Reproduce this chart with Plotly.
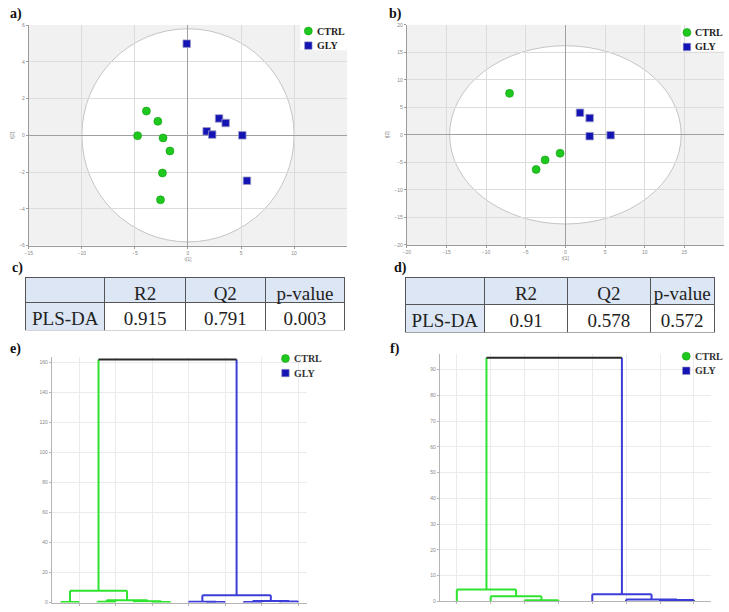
import plotly.graph_objects as go

W, H = 729, 612

# ---------------- data ----------------
# a) PLS-DA score plot (t[1], t[2])
a_ctrl_t1 = [-3.92, -2.84, -4.75, -2.35, -1.70, -2.41, -2.59]
a_ctrl_t2 = [1.32, 0.76, -0.02, -0.14, -0.85, -2.05, -3.51]
a_gly_t1 = [-0.12, 1.76, 2.28, 2.93, 3.55, 5.12, 5.56]
a_gly_t2 = [4.99, 0.22, 0.04, 0.92, 0.67, 0.00, -2.47]
a_ellipse_axes = [10.0, 5.8]

# b) PLS-DA score plot (t[1], t[2])
b_ctrl_t1 = [-7.04, -0.67, -2.56, -3.69]
b_ctrl_t2 = [7.54, -3.35, -4.55, -6.29]
b_gly_t1 = [1.84, 3.06, 3.06, 5.70]
b_gly_t2 = [4.01, 3.05, -0.24, -0.06]
b_ellipse_axes = [14.6, 16.2]

# c), d) model statistics
table_header = ["", "R2", "Q2", "p-value"]
c_values = ["PLS-DA", "0.915", "0.791", "0.003"]
d_values = ["PLS-DA", "0.91", "0.578", "0.572"]

# e), f) hierarchical clustering (left child, right child, height)
e_leaf_groups = ["CTRL"] * 7 + ["GLY"] * 7
e_linkage = [(0, 1, 0.4), (2, 3, 0.6), (5, 6, 0.3), (4, 16, 0.9), (15, 17, 1.6),
             (14, 18, 7.9), (8, 9, 0.3), (7, 20, 0.5), (10, 11, 0.4), (12, 13, 0.7),
             (22, 23, 1.0), (21, 24, 4.8), (19, 25, 162.0)]
f_leaf_groups = ["CTRL"] * 4 + ["GLY"] * 4
f_linkage = [(2, 3, 0.4), (1, 8, 2.0), (0, 9, 4.6), (6, 7, 0.5), (5, 11, 0.7),
             (4, 12, 2.8), (10, 13, 94.6)]

# ---------------- styles ----------------
GREEN = "#1ec81e"
BLUE = "#1414b4"
D_GREEN = "#2ee32e"
D_BLUE = "#3c3cd8"
SERIF = "Liberation Serif"
TABLE_BLUE = "#dce6f4"


def px(x):
    return x / W


def py(y):
    return 1 - y / H


fig = go.Figure()

# score plots
for (xa, ya, ct1, ct2, gt1, gt2) in [
    ("x", "y", a_ctrl_t1, a_ctrl_t2, a_gly_t1, a_gly_t2),
    ("x2", "y2", b_ctrl_t1, b_ctrl_t2, b_gly_t1, b_gly_t2),
]:
    fig.add_trace(go.Scatter(x=ct1, y=ct2, mode="markers", name="CTRL", showlegend=False,
                             xaxis=xa, yaxis=ya,
                             marker=dict(symbol="circle", size=8, color=GREEN,
                                         line=dict(color="#0f9a0f", width=0.6))))
    fig.add_trace(go.Scatter(x=gt1, y=gt2, mode="markers", name="GLY", showlegend=False,
                             xaxis=xa, yaxis=ya,
                             marker=dict(symbol="square", size=7.5, color=BLUE,
                                         line=dict(color="#9a9ac8", width=0.8))))


# dendrograms
def dendro_traces(n, linkage, groups, xa, ya):
    pos = {i: float(i) for i in range(n)}
    hgt = {i: 0.0 for i in range(n)}
    mem = {i: {groups[i]} for i in range(n)}
    lines = {"CTRL": ([], []), "GLY": ([], []), "ALL": ([], [])}

    def key_of(m):
        return list(m)[0] if len(m) == 1 else "ALL"

    for k, (l, r, h) in enumerate(linkage):
        c = n + k
        m = mem[l] | mem[r]
        xs, ys = lines[key_of(mem[l])]
        xs += [pos[l], pos[l], None]
        ys += [hgt[l], h, None]
        xs, ys = lines[key_of(mem[r])]
        xs += [pos[r], pos[r], None]
        ys += [hgt[r], h, None]
        xs, ys = lines[key_of(m)]
        xs += [pos[l], pos[r], None]
        ys += [h, h, None]
        pos[c] = (pos[l] + pos[r]) / 2
        hgt[c] = h
        mem[c] = m
    cols = {"CTRL": D_GREEN, "GLY": D_BLUE, "ALL": "#2a2a2a"}
    for key in ["CTRL", "GLY", "ALL"]:
        xs, ys = lines[key]
        fig.add_trace(go.Scatter(x=xs, y=ys, mode="lines", showlegend=False, name=key,
                                 xaxis=xa, yaxis=ya, cliponaxis=False,
                                 line=dict(color=cols[key], width=2)))


dendro_traces(len(e_leaf_groups), e_linkage, e_leaf_groups, "x3", "y3")
dendro_traces(len(f_leaf_groups), f_linkage, f_leaf_groups, "x4", "y4")

# manual legends (overlay axis in pixel space)
legend_spots = [(306, 28.3, 312.5), (686.7, 29.7, 693.3), (283, 359, 289.7), (686, 356.7, 693.3)]
for i, (lx, ly, tx) in enumerate(legend_spots):
    fig.add_trace(go.Scatter(x=[lx], y=[ly], mode="markers", showlegend=False, name="CTRL",
                             xaxis="x5", yaxis="y5",
                             marker=dict(symbol="circle", size=8, color=GREEN,
                                         line=dict(color="#0f9a0f", width=0.5))))
    fig.add_trace(go.Scatter(x=[lx], y=[ly + 14.7], mode="markers", showlegend=False, name="GLY",
                             xaxis="x5", yaxis="y5",
                             marker=dict(symbol="square", size=7.5, color=BLUE,
                                         line=dict(color="#9a9ac8", width=0.6))))

# tables
for dom_x, dom_y, vals, cw, hh, ch in [
    ([px(21.7), px(343.3)], [py(331), py(277)], c_values, [80, 81, 80.6, 80], 25, 28),
    ([px(403.3), px(714.3)], [py(333.5), py(277.3)], d_values, [80, 83.4, 83.3, 64.3], 27, 28),
]:
    fig.add_trace(go.Table(
        domain=dict(x=dom_x, y=dom_y),
        columnwidth=cw,
        header=dict(values=table_header, fill_color=TABLE_BLUE, line=dict(color="#555", width=1),
                    height=hh, align="center",
                    font=dict(family=SERIF, size=19, color="#222")),
        cells=dict(values=[[v] for v in vals],
                   fill_color=[[TABLE_BLUE], ["white"], ["white"], ["white"]],
                   line=dict(color="#555", width=1), height=ch, align="center",
                   font=dict(family=SERIF, size=19, color="#222")),
    ))

small = dict(size=5, color="#888", family="Arial")
score_axis = dict(showgrid=True, gridcolor="#dcdcdc", gridwidth=1, zeroline=True,
                  zerolinecolor="#a0a0a0", zerolinewidth=1, showline=True, linecolor="#9a9a9a",
                  ticks="outside", ticklen=2, tickcolor="#9a9a9a", tickfont=small,
                  fixedrange=True)
dendro_axis = dict(showgrid=True, gridcolor="#ebebeb", gridwidth=1, zeroline=False,
                   showline=True, linecolor="#b5b5b5", ticks="outside", ticklen=2,
                   tickcolor="#b5b5b5", tickfont=small, fixedrange=True)

fig.update_layout(
    width=W, height=H,
    margin=dict(l=0, r=0, t=0, b=0),
    paper_bgcolor="white", plot_bgcolor="rgba(0,0,0,0)",
    showlegend=False,
    font=dict(family=SERIF),
    xaxis=dict(score_axis, domain=[px(25), px(345)], range=[-15, 15],
               tickvals=[-15, -10, -5, 0, 5, 10],
               anchor="y", title=dict(text="t[1]", font=small, standoff=1)),
    yaxis=dict(score_axis, domain=[py(245), py(22.3)], range=[-6, 6], dtick=2, tick0=0,
               anchor="x", title=dict(text="t[2]", font=small, standoff=4)),
    xaxis2=dict(score_axis, domain=[px(405), px(724)], range=[-20, 20],
                tickvals=[-20, -15, -10, -5, 0, 5, 10, 15],
                anchor="y2", title=dict(text="t[1]", font=small, standoff=1)),
    yaxis2=dict(score_axis, domain=[py(244.3), py(22)], range=[-20, 20], dtick=5, tick0=0,
                anchor="x2", title=dict(text="t[2]", font=small, standoff=4)),
    xaxis3=dict(dendro_axis, domain=[px(48), px(305)], range=[-0.5, 13.5],
                tickvals=[1, 3, 5, 7, 9, 11, 13], showticklabels=False, anchor="y3"),
    yaxis3=dict(dendro_axis, domain=[py(605.5), py(357)], range=[0, 164], dtick=20,
                anchor="x3"),
    xaxis4=dict(dendro_axis, domain=[px(438.3), px(710.7)], range=[-0.5, 7.5],
                tickvals=list(range(8)), showticklabels=False, anchor="y4"),
    yaxis4=dict(dendro_axis, domain=[py(604.3), py(354.7)], range=[0, 96], dtick=10,
                anchor="x4"),
    xaxis5=dict(domain=[0, 1], range=[0, W], visible=False, anchor="y5", fixedrange=True),
    yaxis5=dict(domain=[0, 1], range=[H, 0], visible=False, anchor="x5", fixedrange=True),
)

shapes = []
for xr, yr, axes in [("x", "y", a_ellipse_axes), ("x2", "y2", b_ellipse_axes)]:
    shapes.append(dict(type="rect", xref=xr + " domain", yref=yr + " domain", x0=0, x1=1, y0=0, y1=1,
                       fillcolor="#f1f1f1", line=dict(width=0), layer="below"))
    shapes.append(dict(type="circle", xref=xr, yref=yr, x0=-axes[0], x1=axes[0],
                       y0=-axes[1], y1=axes[1], fillcolor="white",
                       line=dict(color="#c4c4c4", width=1), layer="below"))
# white legend boxes for a) and b)
shapes.append(dict(type="rect", xref="paper", yref="paper", x0=px(298), x1=px(345),
                   y0=py(47.7), y1=py(22.3), fillcolor="white", line=dict(width=0), layer="below"))
shapes.append(dict(type="rect", xref="paper", yref="paper", x0=px(680.7), x1=px(724),
                   y0=py(49), y1=py(22), fillcolor="white", line=dict(width=0), layer="below"))
fig.update_layout(shapes=shapes)

ann = []
for t, x, y in [("a)", 4, 11.5), ("b)", 385, 11), ("c)", 6, 268), ("d)", 390, 268),
                ("e)", 4, 349), ("f)", 386, 349)]:
    ann.append(dict(text=t, x=px(x), y=py(y), xref="paper", yref="paper", xanchor="left",
                    yanchor="middle", showarrow=False,
                    font=dict(family=SERIF, size=14, color="#111", weight="bold")))
for (lx, ly, tx), col in zip(legend_spots, ["#222", "#222", "#333", "#333"]):
    for txt, dy in [("CTRL", 0), ("GLY", 14.7)]:
        ann.append(dict(text=txt, x=px(tx), y=py(ly + dy), xref="paper", yref="paper",
                        xanchor="left", yanchor="middle", showarrow=False,
                        font=dict(family=SERIF, size=10, color=col, weight="bold")))
fig.update_layout(annotations=ann)

fig.write_html("out.html", config={"displayModeBar": False},
               post_script="document.body.style.margin='0px';")
